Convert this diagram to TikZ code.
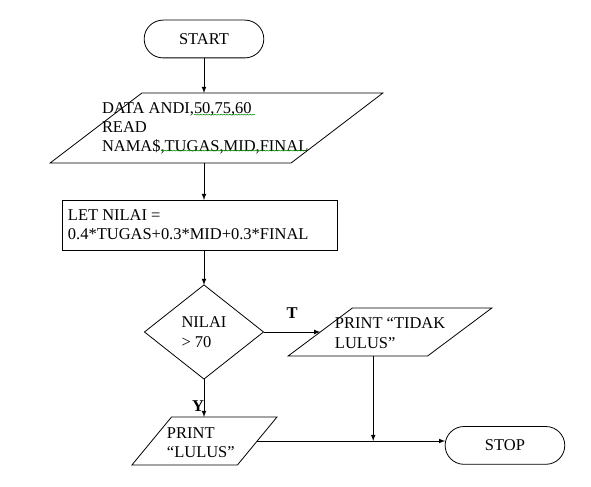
\documentclass[tikz,border=0pt]{standalone}
\usepackage{fontspec}
\setmainfont{Liberation Serif}
\usetikzlibrary{shapes.geometric, shapes.misc, arrows, positioning, calc, decorations.pathmorphing}

\begin{document}
\begin{tikzpicture}[every node/.style={outer sep=0pt}, line width=0.6pt]

\tikzstyle{terminal}=[draw,rounded rectangle,minimum width=3.4cm,minimum height=1.0cm,font=\fontsize{12.4}{14.6}\selectfont]
\tikzstyle{io}=[draw,trapezium,trapezium stretches=true]
\tikzstyle{proses}=[draw,rectangle,minimum width=7.28cm,minimum height=1.32cm]
\tikzstyle{decision}=[draw,diamond,minimum width=3.15cm,minimum height=2.49cm,align=left,font=\fontsize{12.4}{14.6}\selectfont]
\tikzstyle{teks}=[anchor=west,align=left,inner sep=0pt,font=\fontsize{12.4}{14.6}\selectfont]
\tikzstyle{wavy}=[draw=green!55!black,line width=0.4pt,decorate,decoration={snake,amplitude=0.35pt,segment length=2.2pt}]

\useasboundingbox (0,0) rectangle (15.637,12.885);

\node (start) [terminal] at (5.397,11.853) {START};

\node (data) [io,minimum width=8.81cm,minimum height=1.852cm,trapezium left angle=58.4,trapezium right angle=121.6] at (5.728,9.498) {};
\node (datatxt) [teks] at (2.699,9.49) {DATA ANDI,50,75,60\\READ\\NAMA\$,TUGAS,MID,FINAL};
\draw [wavy] (5.13,9.85) -- (6.75,9.85);
\draw [wavy] (4.26,8.9) -- (8.12,8.9);

\node (hitung) [proses] at (5.278,6.932) {};
\node (hitungtxt) [teks] at (1.799,6.94) {LET NILAI =\\0.4*TUGAS+0.3*MID+0.3*FINAL};

\node (cek) [decision] at (5.397,4.101) {NILAI\\> 70};

\node (tidak) [io,minimum width=5.397cm,minimum height=1.27cm,trapezium left angle=49.5,trapezium right angle=130.5] at (10.319,4.101) {};
\node (tidaktxt) [teks] at (8.863,4.07) {PRINT “TIDAK\\LULUS”};
\coordinate (tidakbawah) at ($(tidak.bottom left corner)+(2.25cm,0)$);

\node (lulus) [io,minimum width=3.84cm,minimum height=1.27cm,trapezium left angle=59,trapezium right angle=121] at (5.41,1.217) {};
\node (lulustxt) [teks] at (4.418,1.17) {PRINT\\“LULUS”};

\node (stop) [terminal] at (13.36,1.1) {STOP};

\node (labT) [font=\fontsize{12.4}{14.6}\selectfont\bfseries,inner sep=0pt] at (7.726,4.604) {T};
\node (labY) [font=\fontsize{12.4}{14.6}\selectfont\bfseries,inner sep=0pt] at (5.239,2.143) {Y};

\draw [-latex] (start.south) -- (start.south |- data.top side);
\draw [-latex] (start.south |- data.bottom side) -- (start.south |- hitung.north);
\draw [-latex] (cek.north |- hitung.south) -- (cek.north);
\draw [-latex] (cek.east) -- (tidak.left side);
\draw [-latex] (cek.south) -- (cek.south |- lulus.top side);
\draw [-latex] (lulus.right side) -- (lulus.right side -| stop.west);
\draw [-latex] (tidakbawah) -- (tidakbawah |- lulus.right side);

\end{tikzpicture}
\end{document}
